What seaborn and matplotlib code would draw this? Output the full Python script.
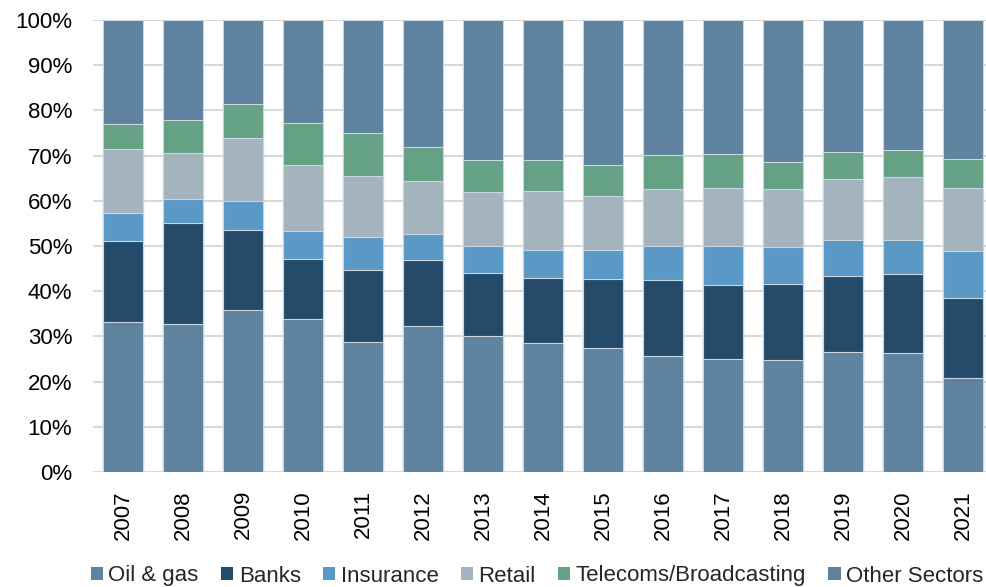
import numpy as np
import pandas as pd
import matplotlib
matplotlib.use("Agg")
import matplotlib.pyplot as plt
from matplotlib.patches import Patch
import seaborn as sns

years = ["2007", "2008", "2009", "2010", "2011", "2012", "2013", "2014",
         "2015", "2016", "2017", "2018", "2019", "2020", "2021"]
sectors = ["Oil & gas", "Banks", "Insurance", "Retail",
           "Telecoms/Broadcasting", "Other Sectors"]
oil_gas = [33.2, 32.7, 35.8, 33.9, 28.8, 32.2, 30.0, 28.6, 27.4, 25.6, 25.0, 24.8, 26.5, 26.3, 20.8]
banks = [17.9, 22.4, 17.7, 13.3, 15.8, 14.7, 14.0, 14.3, 15.2, 16.8, 16.3, 16.7, 16.8, 17.6, 17.6]
insurance = [6.2, 5.2, 6.5, 6.2, 7.3, 5.8, 6.1, 6.3, 6.6, 7.7, 8.8, 8.3, 8.1, 7.5, 10.4]
retail = [14.2, 10.3, 13.8, 14.6, 13.6, 11.7, 11.8, 13.0, 11.9, 12.4, 12.8, 12.7, 13.5, 13.9, 14.1]
telecoms = [5.5, 7.2, 7.7, 9.2, 9.5, 7.5, 7.1, 6.8, 6.8, 7.6, 7.4, 6.0, 5.9, 5.9, 6.4]
other = [23.0, 22.2, 18.5, 22.8, 25.0, 28.1, 31.0, 31.0, 32.1, 29.9, 29.7, 31.5, 29.2, 28.8, 30.7]

colors = ["#5f839e", "#244c6a", "#5a98c6", "#a4b4be", "#65a184", "#5f839e"]

series = [oil_gas, banks, insurance, retail, telecoms, other]
df = pd.DataFrame({s: v for s, v in zip(sectors, series)}, index=years)
df = df.div(df.sum(axis=1), axis=0) * 100
cum = df.cumsum(axis=1)

sns.set_theme(style="white")
plt.rcParams['font.family'] = ['Liberation Sans', 'DejaVu Sans']

fig = plt.figure(figsize=(9.86, 5.87), dpi=100)
W, H = 986, 587
ax = fig.add_axes([93 / W, 1 - 472 / H, 900 / W, 452 / H])

for i in range(len(sectors) - 1, -1, -1):
    d = pd.DataFrame({"year": years, "val": cum[sectors[i]].values})
    sns.barplot(data=d, x="year", y="val", color=colors[i], width=0.667,
                edgecolor="#c9d6e0", linewidth=0.8, saturation=1,
                ax=ax, zorder=2)

ax.set_ylim(0, 100)
ax.set_xlim(-0.5, 14.5)
ax.set_yticks(np.arange(0, 101, 10))
ax.set_yticklabels([f"{t}%" for t in range(0, 101, 10)], fontsize=16)
ax.set_xticklabels(years, rotation=90, fontsize=16)
ax.set_xlabel("")
ax.set_ylabel("")
ax.grid(axis="y", color="#d9d9d9", linewidth=1.5, zorder=0)
ax.set_axisbelow(True)
for s in ax.spines.values():
    s.set_visible(False)
ax.tick_params(axis="y", length=0, pad=15, colors="black")
ax.tick_params(axis="x", length=0, pad=13, colors="black")

handles = [Patch(facecolor=c, edgecolor="none") for c in colors]
fig.legend(handles, sectors, loc="center", bbox_to_anchor=(537 / W, 1 - 576 / H),
           ncol=6, frameon=False, fontsize=16, handlelength=0.55, handleheight=0.55,
           handletextpad=0.25, columnspacing=1.0, borderpad=0)

fig.savefig("out.png", dpi=100)
